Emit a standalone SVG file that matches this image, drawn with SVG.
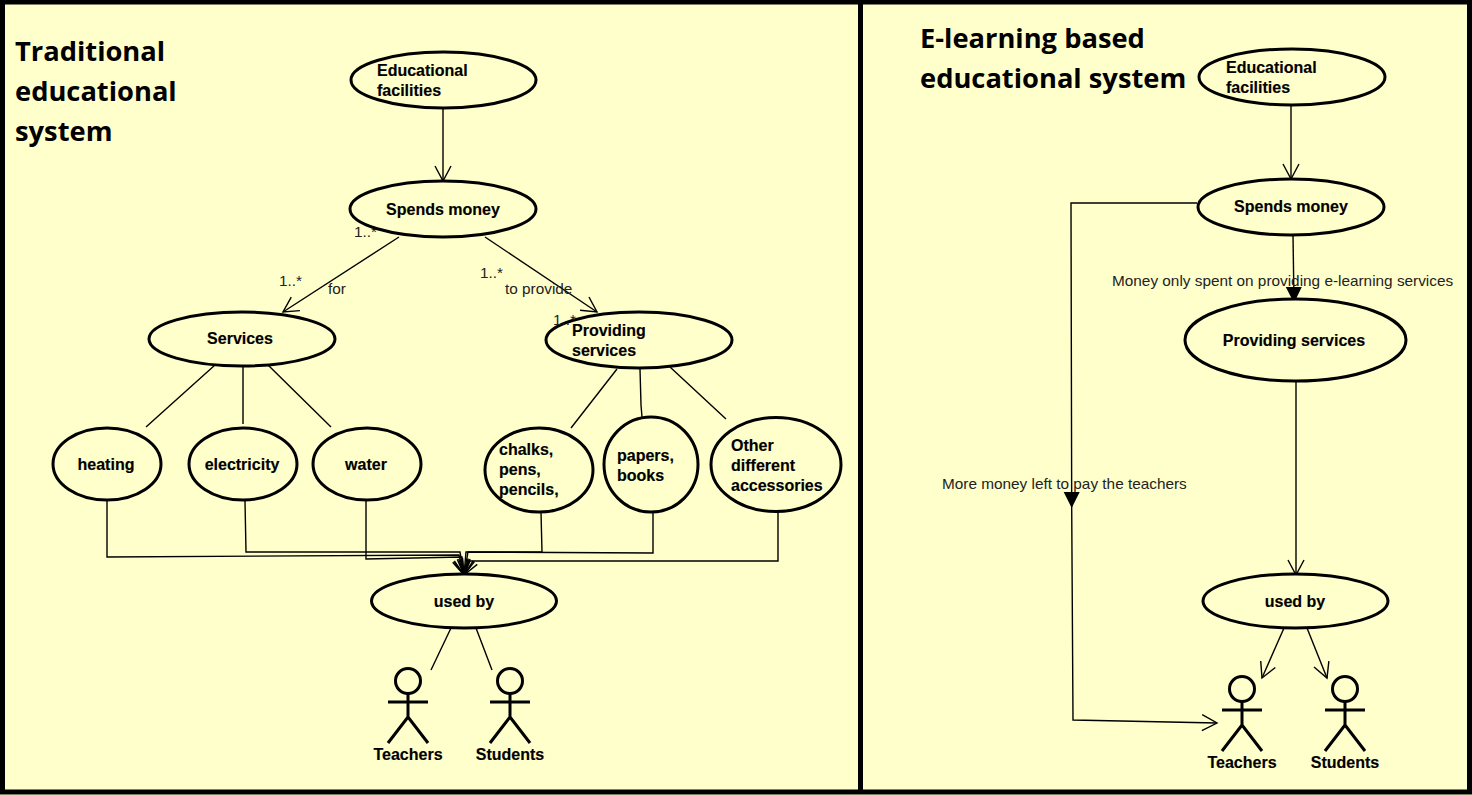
<svg xmlns="http://www.w3.org/2000/svg" width="1472" height="795" viewBox="0 0 1472 795">
<style>
text{font-family:"Liberation Sans",Arial,sans-serif;fill:#000}
.n{font-size:16px;font-weight:bold;stroke:#000;stroke-width:.15px}
.l{font-size:15.35px;fill:#222}
.t{font-family:"Open Sans","Noto Sans",sans-serif;font-size:27.3px;font-weight:bold}
.e{fill:#ffffcc;stroke:#000;stroke-width:3}
.c{fill:none;stroke:#000;stroke-width:1.4}
.s{fill:none;stroke:#000;stroke-width:3}
.m{text-anchor:middle}
</style>
<defs>
<g id="actor"><circle cx="0" cy="-21" r="12.5" class="s"/><path d="M0-8V16M-20 0H20M-20 41 0 15 20 41" class="s"/></g>
<marker id="open" viewBox="-16 -9 18 18" refX="0" refY="0" markerWidth="18" markerHeight="18" markerUnits="userSpaceOnUse" orient="auto"><path d="M-15-8 0 0-15 8" fill="none" stroke="#000" stroke-width="1.4"/></marker>
<marker id="solid" viewBox="-18 -9 20 18" refX="0" refY="0" markerWidth="20" markerHeight="18" markerUnits="userSpaceOnUse" orient="auto"><path d="M-16-8 0 0-16 8Z" fill="#000"/></marker>
</defs>
<rect width="1472" height="795" fill="#ffffcc"/>
<g id="frame" fill="none" stroke="#000" stroke-width="5">
<rect x="2.500" y="2" width="1467" height="790"/>
<path d="M860.500 2V792"/>
</g>
<g id="connectors">
<path class="c" marker-end="url(#open)" d="M443 108 443 181"/>
<path class="c" marker-end="url(#open)" d="M399 237 283 312"/>
<path class="c" marker-end="url(#open)" d="M485 237 597 312"/>
<path class="c" d="M215 365 146 427M243 367V424M268 365 331 427M617 369 571 428M640 369 641 405 642 417M670 367 726 419"/>
<path class="c" marker-end="url(#open)" d="M107 501V557L459 555 464 575"/>
<path class="c" marker-end="url(#open)" d="M245 501 246 552H460L464 575"/>
<path class="c" marker-end="url(#open)" d="M366 501V559L462 557 464 575"/>
<path class="c" marker-end="url(#open)" d="M541 512 542 552H466L464 575"/>
<path class="c" marker-end="url(#open)" d="M653 512V553L468 552 464 575"/>
<path class="c" marker-end="url(#open)" d="M778 512V561H470L464 575"/>
<path class="c" d="M451 628 431 670M476 628 492 670"/>
<path class="c" marker-end="url(#open)" d="M1291 105V179"/>
<path class="c" marker-end="url(#solid)" d="M1293 235 1294 303"/>
<path class="c" marker-end="url(#solid)" d="M1197 203H1071L1071.700 508"/>
<path class="c" marker-end="url(#open)" d="M1071.700 508 1073 720 1217 723"/>
<path class="c" marker-end="url(#open)" d="M1296 380V575"/>
<path class="c" marker-end="url(#open)" d="M1284 628 1262 678"/>
<path class="c" marker-end="url(#open)" d="M1307 628 1327 678"/>
<text class="l" x="354" y="237">1..*</text>
</g>
<g id="title-left"><text class="t" x="15" y="61">Traditional</text><text class="t" x="15" y="101">educational</text><text class="t" x="15" y="141">system</text></g>
<g id="title-right"><text class="t" x="920" y="48">E-learning based</text><text class="t" x="920" y="88">educational system</text></g>
<g id="educational-facilities-left"><ellipse class="e" cx="443.500" cy="80" rx="92.500" ry="28"/><text class="n" x="377" y="76">Educational</text><text class="n" x="377" y="96">facilities</text></g>
<g id="spends-money-left"><ellipse class="e" cx="443" cy="209" rx="93" ry="28"/><text class="n m" x="443" y="215">Spends money</text></g>
<g id="services"><ellipse class="e" cx="242" cy="339" rx="93" ry="27"/><text class="n m" x="240" y="344">Services</text></g>
<g id="providing-services-left"><ellipse class="e" cx="639" cy="340" rx="93" ry="28"/><text class="n" x="572" y="336">Providing</text><text class="n" x="572" y="356">services</text></g>
<g id="heating"><ellipse class="e" cx="107" cy="464" rx="54" ry="36"/><text class="n m" x="106" y="470">heating</text></g>
<g id="electricity"><ellipse class="e" cx="243" cy="464" rx="54" ry="36"/><text class="n m" x="242" y="470">electricity</text></g>
<g id="water"><ellipse class="e" cx="367" cy="464" rx="54" ry="36"/><text class="n m" x="366" y="470">water</text></g>
<g id="chalks"><ellipse class="e" cx="539" cy="470" rx="54" ry="42"/><text class="n" x="499" y="455">chalks,</text><text class="n" x="499" y="475">pens,</text><text class="n" x="499" y="495">pencils,</text></g>
<g id="papers"><ellipse class="e" cx="651" cy="464.500" rx="47" ry="47.500"/><text class="n" x="617" y="461">papers,</text><text class="n" x="617" y="481">books</text></g>
<g id="accessories"><ellipse class="e" cx="776" cy="464.500" rx="65" ry="47"/><text class="n" x="731" y="451">Other</text><text class="n" x="731" y="471">different</text><text class="n" x="731" y="491">accessories</text></g>
<g id="used-by-left"><ellipse class="e" cx="464" cy="601" rx="92.500" ry="27"/><text class="n m" x="464" y="607">used by</text></g>
<g id="teachers-left"><use href="#actor" x="408" y="702"/><text class="n m" x="408" y="760">Teachers</text></g>
<g id="students-left"><use href="#actor" x="510" y="702"/><text class="n m" x="510" y="760">Students</text></g>
<g id="educational-facilities-right"><ellipse class="e" cx="1292" cy="77" rx="93" ry="28"/><text class="n" x="1226" y="73">Educational</text><text class="n" x="1226" y="93">facilities</text></g>
<g id="spends-money-right"><ellipse class="e" cx="1291" cy="207" rx="93" ry="28"/><text class="n m" x="1291" y="212">Spends money</text></g>
<g id="providing-services-right"><ellipse class="e" cx="1295.500" cy="340" rx="110.500" ry="41"/><text class="n m" x="1294" y="346">Providing services</text></g>
<g id="used-by-right"><ellipse class="e" cx="1295.500" cy="601" rx="92.500" ry="27"/><text class="n m" x="1295" y="607">used by</text></g>
<g id="teachers-right"><use href="#actor" x="1242" y="710"/><text class="n m" x="1242" y="768">Teachers</text></g>
<g id="students-right"><use href="#actor" x="1345" y="710"/><text class="n m" x="1345" y="768">Students</text></g>
<g id="labels">
<text class="l" x="279" y="286">1..*</text>
<text class="l" x="328" y="294">for</text>
<text class="l" x="480" y="278">1..*</text>
<text class="l" x="505" y="294">to provide</text>
<text class="l" x="553" y="325">1..*</text>
<text class="l" x="1112" y="286">Money only spent on providing e-learning services</text>
<text class="l" x="942" y="489">More money left to pay the teachers</text>
</g>
</svg>
